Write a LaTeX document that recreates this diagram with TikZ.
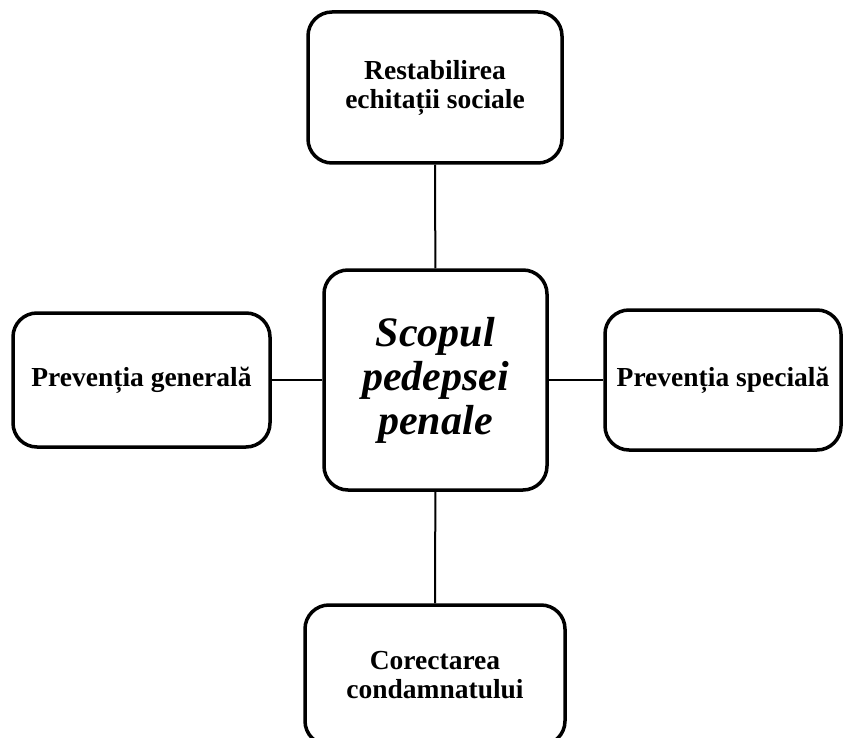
\documentclass[tikz,border=0pt]{standalone}
\usepackage{fontspec}
\setmainfont{Liberation Serif}
\usetikzlibrary{positioning}

\tikzset{
  box/.style={draw, line width=3.5pt, rounded corners=24pt, align=center,
              inner sep=0pt, font=\fontsize{27.5}{29}\selectfont\bfseries},
  conn/.style={line width=2pt}
}

\begin{document}
\begin{tikzpicture}[x=1pt, y=-1pt]
  \useasboundingbox (0,0) rectangle (843,738);
  \clip (0,0) rectangle (843,738);

  \node [box, minimum width=223pt, minimum height=220pt,
         font=\fontsize{42}{44}\selectfont\bfseries\itshape] (scop) at (435.5,380)
        {Scopul\\pedepsei\\penale};

  \node [box, minimum width=254pt, minimum height=151pt] (sus) at (435,87.5)
        {Restabilirea\\echitații sociale};
  \node [box, minimum width=257pt, minimum height=134pt] (stanga) at (141.5,380)
        {Prevenția generală};
  \node [box, minimum width=236pt, minimum height=140pt] (dreapta) at (723,380)
        {Prevenția specială};
  \node [box, minimum width=260pt, minimum height=140pt] (jos) at (435,675)
        {Corectarea\\condamnatului};

  \draw  [conn] (sus) -- (scop);
  \draw  [conn] (stanga) -- (scop);
  \draw  [conn] (scop) -- (dreapta);
  \draw  [conn] (scop) -- (jos);
\end{tikzpicture}
\end{document}
